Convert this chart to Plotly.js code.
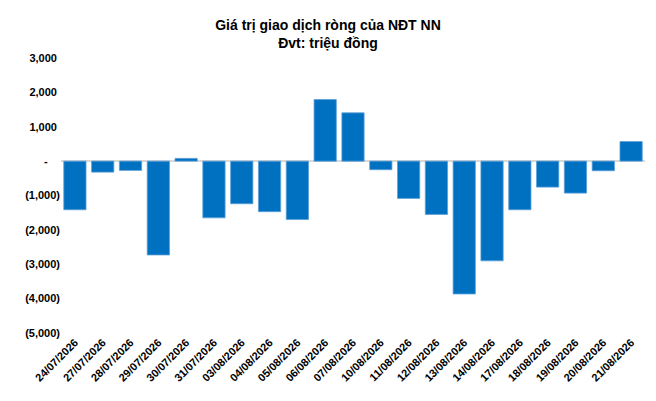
<!DOCTYPE html>
<html>
<head>
<meta charset="utf-8">
<script src="https://cdn.plot.ly/plotly-3.0.1.min.js"></script>
<style>
  html, body { margin: 0; padding: 0; background: #fff; }
  #chart { width: 656px; height: 401px; }
</style>
</head>
<body>
<div id="chart"></div>
<script>
// Net foreign investor trading value (million VND)
const dates = [
  '24/07/2026', '27/07/2026', '28/07/2026', '29/07/2026', '30/07/2026', '31/07/2026',
  '03/08/2026', '04/08/2026', '05/08/2026', '06/08/2026', '07/08/2026', '10/08/2026',
  '11/08/2026', '12/08/2026', '13/08/2026', '14/08/2026', '17/08/2026', '18/08/2026',
  '19/08/2026', '20/08/2026', '21/08/2026'
];
const netValues = [
  -1415, -320, -270, -2730, 80, -1650,
  -1240, -1470, -1700, 1790, 1405, -250,
  -1085, -1550, -3865, -2900, -1415, -755,
  -930, -280, 570
];
const yTickVals = [3000, 2000, 1000, 0, -1000, -2000, -3000, -4000, -5000];
const yTickText = ['3,000\u00a0', '2,000\u00a0', '1,000\u00a0', '-\u00a0\u00a0\u00a0\u00a0',
  '(1,000)', '(2,000)', '(3,000)', '(4,000)', '(5,000)'];

const font = 'Liberation Sans, Arial, sans-serif';

const trace = {
  type: 'bar',
  x: dates,
  y: netValues,
  marker: { color: '#0070C0', line: { color: '#5b9fd8', width: 0.8 } },
  hoverinfo: 'x+y'
};

const layout = {
  width: 656,
  height: 401,
  margin: { l: 61, r: 11, t: 58, b: 68 },
  paper_bgcolor: '#fff',
  plot_bgcolor: '#fff',
  bargap: 0.2,
  showlegend: false,
  font: { family: font, color: '#000' },
  title: {
    text: '<b>Giá trị giao dịch ròng của NĐT NN<br>Đvt: triệu đồng</b>',
    font: { family: font, size: 14, color: '#000' },
    x: 0.5, xanchor: 'center', yref: 'container', y: 0.925, yanchor: 'middle'
  },
  xaxis: {
    type: 'category',
    tickangle: -45,
    tickvals: dates,
    ticktext: dates.map(d => '<b>' + d + '</b>'),
    tickfont: { family: font, size: 11, color: '#000' },
    showgrid: false,
    showline: false,
    ticks: '',
    zeroline: false
  },
  yaxis: {
    range: [-5000, 3000],
    tickvals: yTickVals,
    ticktext: yTickText.map(t => '<b>' + t + '</b>'),
    tickfont: { family: font, size: 11, color: '#000' },
    showgrid: false,
    showline: false,
    ticks: '',
    zeroline: true,
    zerolinecolor: '#d9d9d9',
    zerolinewidth: 1.5
  }
};

Plotly.newPlot('chart', [trace], layout, { displayModeBar: false, staticPlot: true });
</script>
</body>
</html>
